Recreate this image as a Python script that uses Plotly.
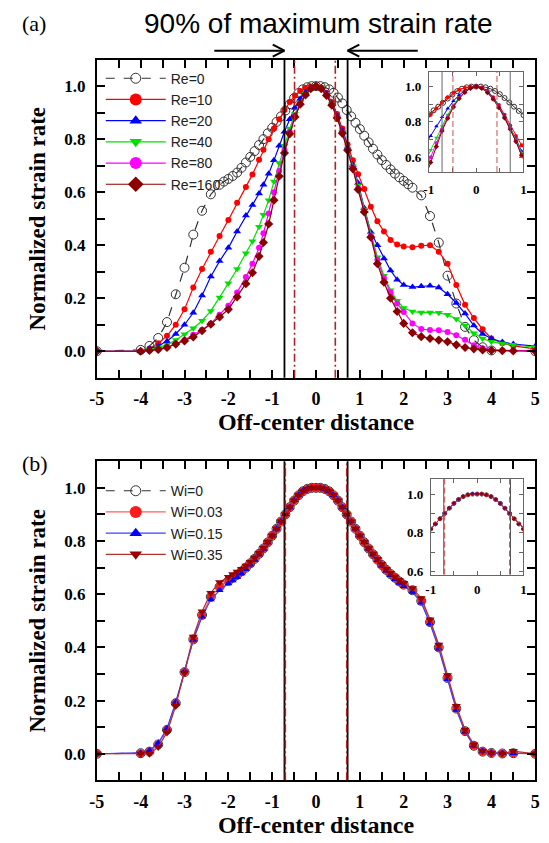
import plotly.graph_objects as go

# ---------------- panel (a) data ----------------
X_RE0 = [-5, -4, -3.8, -3.6, -3.4, -3.2, -3.0, -2.8, -2.6, -2.4, -2.2, -2.1, -2.0, -1.9, -1.8, -1.7,
         -1.6, -1.5, -1.4, -1.3, -1.2, -1.1, -1.0, -0.9, -0.8, -0.7, -0.6, -0.5, -0.4, -0.3, -0.2, -0.1,
         0,
         0.1, 0.2, 0.3, 0.4, 0.5, 0.6, 0.7, 0.8, 0.9, 1.0, 1.1, 1.2, 1.3, 1.4, 1.5, 1.6, 1.7, 1.8, 1.9,
         2.0, 2.1, 2.2, 2.4, 2.6, 2.8, 3.0, 3.2, 3.4, 3.6, 3.8, 4.0, 5.0]
Y_RE0 = [0.0, 0.005, 0.02, 0.05, 0.11, 0.215, 0.315, 0.44, 0.53, 0.592, 0.628, 0.64, 0.65, 0.661, 0.674, 0.692,
         0.712, 0.733, 0.755, 0.778, 0.8, 0.822, 0.843, 0.865, 0.886, 0.908, 0.932, 0.955, 0.974, 0.988, 0.996, 1.0,
         1.0,
         1.0, 0.996, 0.988, 0.975, 0.957, 0.935, 0.91, 0.886, 0.862, 0.838, 0.813, 0.788, 0.764, 0.742, 0.721, 0.703,
         0.686, 0.67, 0.656, 0.643, 0.63, 0.617, 0.588, 0.51, 0.41, 0.285, 0.18, 0.092, 0.042, 0.015, 0.003, 0.0]

X_RE = [-5, -4, -3.8, -3.6, -3.4, -3.2, -3.0, -2.8, -2.6, -2.4, -2.2, -2.0, -1.8, -1.6, -1.45, -1.3, -1.2,
        -1.08, -0.96, -0.84, -0.72, -0.6, -0.48, -0.36, -0.24, -0.12,
        0,
        0.12, 0.24, 0.36, 0.48, 0.6, 0.72, 0.84, 0.96, 1.1, 1.25, 1.4, 1.55, 1.7, 1.85, 2.0, 2.2, 2.4, 2.6,
        2.8, 3.0, 3.2, 3.4, 3.6, 3.8, 4.0, 4.25, 4.5, 5.0]
Y_RE10 = [0.0, 0.0, 0.01, 0.03, 0.058, 0.1, 0.158, 0.24, 0.31, 0.375, 0.435, 0.495, 0.56, 0.62, 0.667, 0.722, 0.76,
          0.8, 0.84, 0.875, 0.91, 0.94, 0.965, 0.982, 0.994, 0.999,
          1.0,
          0.995, 0.975, 0.94, 0.895, 0.84, 0.78, 0.72, 0.668, 0.612, 0.545, 0.49, 0.452, 0.42, 0.403, 0.395, 0.392,
          0.398, 0.4, 0.375, 0.33, 0.25, 0.175, 0.125, 0.083, 0.048, 0.03, 0.02, 0.009]
Y_RE20 = [0.0, 0.0, 0.01, 0.02, 0.038, 0.065, 0.1, 0.145, 0.21, 0.282, 0.34, 0.39, 0.452, 0.512, 0.552, 0.595, 0.628,
          0.67, 0.72, 0.775, 0.828, 0.875, 0.918, 0.952, 0.977, 0.994,
          1.0,
          0.993, 0.972, 0.935, 0.888, 0.832, 0.768, 0.703, 0.635, 0.54, 0.45, 0.4, 0.35, 0.305, 0.27, 0.25, 0.242,
          0.245, 0.247, 0.24, 0.215, 0.182, 0.142, 0.097, 0.065, 0.048, 0.035, 0.027, 0.019]
Y_RE40 = [0.0, 0.0, 0.006, 0.014, 0.024, 0.042, 0.064, 0.087, 0.115, 0.152, 0.203, 0.256, 0.31, 0.37, 0.415, 0.47, 0.515,
          0.57, 0.64, 0.71, 0.775, 0.84, 0.895, 0.938, 0.971, 0.992,
          1.0,
          0.992, 0.97, 0.932, 0.885, 0.828, 0.765, 0.698, 0.625, 0.535, 0.44, 0.355, 0.285, 0.23, 0.19, 0.163, 0.15,
          0.146, 0.146, 0.145, 0.138, 0.122, 0.097, 0.068, 0.048, 0.036, 0.029, 0.024, 0.015]
Y_RE80 = [0.0, 0.0, 0.003, 0.007, 0.014, 0.027, 0.042, 0.062, 0.081, 0.105, 0.138, 0.172, 0.222, 0.28, 0.33, 0.39, 0.445,
          0.52, 0.6, 0.68, 0.758, 0.828, 0.888, 0.934, 0.968, 0.991,
          1.0,
          0.991, 0.968, 0.93, 0.882, 0.825, 0.762, 0.693, 0.615, 0.53, 0.435, 0.345, 0.275, 0.222, 0.18, 0.148, 0.105,
          0.084, 0.08, 0.079, 0.073, 0.06, 0.043, 0.023, 0.011, 0.006, 0.004, 0.003, 0.002]
Y_RE160 = [0.0, 0.0, 0.003, 0.007, 0.014, 0.027, 0.039, 0.054, 0.077, 0.102, 0.129, 0.158, 0.205, 0.255, 0.296, 0.358, 0.41,
           0.48, 0.57, 0.66, 0.748, 0.82, 0.884, 0.932, 0.967, 0.99,
           1.0,
           0.99, 0.965, 0.928, 0.88, 0.822, 0.758, 0.688, 0.61, 0.525, 0.43, 0.33, 0.26, 0.2, 0.15, 0.105, 0.07,
           0.055, 0.048, 0.042, 0.036, 0.024, 0.014, 0.009, 0.005, 0.003, 0.002, 0.001, 0.0]
RE_NAMES = ["Re=0", "Re=10", "Re=20", "Re=40", "Re=80", "Re=160"]

# ---------------- panel (b) data ----------------
X_WI = [-5, -4, -3.8, -3.6, -3.4, -3.2, -3.0, -2.8, -2.6, -2.4, -2.2,
        -2.0, -1.9, -1.8, -1.7, -1.6, -1.5, -1.4, -1.3, -1.2, -1.1, -1.0, -0.9, -0.8, -0.7, -0.6, -0.5, -0.4,
        -0.3, -0.2, -0.1,
        0,
        0.1, 0.2, 0.3, 0.4, 0.5, 0.6, 0.7, 0.8, 0.9, 1.0, 1.1, 1.2, 1.3, 1.4, 1.5, 1.6, 1.7, 1.8, 1.9, 2.0,
        2.2, 2.4, 2.6, 2.8, 3.0, 3.2, 3.4, 3.6, 3.8, 4.0, 4.25, 4.5, 5.0]
Y_WI0 = [0.0, 0.002, 0.008, 0.035, 0.09, 0.19, 0.307, 0.43, 0.522, 0.59, 0.628,
         0.65, 0.662, 0.673, 0.686, 0.7, 0.716, 0.733, 0.752, 0.772, 0.795, 0.82, 0.846, 0.873, 0.9, 0.927, 0.952,
         0.972, 0.987, 0.996, 1.0,
         1.0,
         1.0, 0.996, 0.987, 0.972, 0.952, 0.927, 0.9, 0.873, 0.846, 0.82, 0.795, 0.772, 0.75, 0.73, 0.71, 0.692,
         0.676, 0.662, 0.648, 0.636, 0.615, 0.575, 0.495, 0.4, 0.285, 0.17, 0.085, 0.03, 0.008, 0.003, 0.001,
         0.002, 0.0]
Y_WI003 = [0.0, 0.002, 0.008, 0.035, 0.09, 0.19, 0.307, 0.43, 0.522, 0.59, 0.628,
           0.65, 0.662, 0.673, 0.686, 0.7, 0.716, 0.733, 0.752, 0.772, 0.795, 0.82, 0.846, 0.873, 0.9, 0.927, 0.952,
           0.972, 0.987, 0.996, 1.0,
           1.0,
           1.0, 0.996, 0.987, 0.972, 0.952, 0.927, 0.9, 0.873, 0.846, 0.82, 0.795, 0.772, 0.75, 0.73, 0.71, 0.692,
           0.676, 0.662, 0.648, 0.636, 0.615, 0.575, 0.495, 0.4, 0.285, 0.17, 0.085, 0.03, 0.008, 0.003, 0.001,
           0.002, 0.0]
Y_WI015 = [0.0, 0.003, 0.012, 0.04, 0.095, 0.195, 0.31, 0.428, 0.515, 0.58, 0.615,
           0.64, 0.652, 0.664, 0.678, 0.694, 0.711, 0.729, 0.749, 0.77, 0.794, 0.82, 0.846, 0.874, 0.901, 0.928,
           0.953, 0.973, 0.988, 0.997, 1.0,
           1.0,
           1.0, 0.996, 0.987, 0.972, 0.952, 0.927, 0.9, 0.873, 0.846, 0.82, 0.795, 0.771, 0.749, 0.728, 0.707, 0.688,
           0.671, 0.656, 0.642, 0.63, 0.608, 0.568, 0.49, 0.395, 0.28, 0.165, 0.082, 0.03, 0.01, 0.004, 0.002,
           0.002, 0.001]
Y_WI035 = [0.0, 0.0, 0.0, 0.025, 0.08, 0.18, 0.305, 0.44, 0.535, 0.605, 0.645,
           0.665, 0.675, 0.684, 0.695, 0.707, 0.721, 0.737, 0.755, 0.774, 0.796, 0.82, 0.846, 0.873, 0.9, 0.927,
           0.952, 0.972, 0.987, 0.996, 1.0,
           1.0,
           1.0, 0.996, 0.987, 0.972, 0.952, 0.927, 0.9, 0.873, 0.846, 0.82, 0.796, 0.773, 0.752, 0.732, 0.713, 0.695,
           0.68, 0.666, 0.653, 0.642, 0.622, 0.585, 0.505, 0.41, 0.295, 0.18, 0.09, 0.035, 0.01, 0.002, 0.0,
           0.01, 0.0]
WI_NAMES = ["Wi=0", "Wi=0.03", "Wi=0.15", "Wi=0.35"]

# ---------------- reference lines (x positions) ----------------
A_SOLID = [-0.72, 0.72]
A_DASH = [-0.49, 0.44]
B_SOLID = [-0.72, 0.72]
B_DASH = [-0.70, 0.70]

# ---------------- ticks ----------------
X_TICKS = [-5, -4.5, -4, -3.5, -3, -2.5, -2, -1.5, -1, -0.5, 0, 0.5, 1, 1.5, 2, 2.5, 3, 3.5, 4, 4.5, 5]
X_TICKTEXT = ["-5", "", "-4", "", "-3", "", "-2", "", "-1", "", "0", "", "1", "", "2", "", "3", "", "4", "", "5"]
Y_TICKS = [-0.1, 0.0, 0.1, 0.2, 0.3, 0.4, 0.5, 0.6, 0.7, 0.8, 0.9, 1.0, 1.1]
Y_TICKTEXT = ["", "0.0", "", "0.2", "", "0.4", "", "0.6", "", "0.8", "", "1.0", ""]
IN_X_TICKS = [-1, -0.5, 0, 0.5, 1]
IN_X_TICKTEXT = ["-1", "", "0", "", "1"]
IN_Y_TICKS = [0.6, 0.7, 0.8, 0.9, 1.0]
IN_Y_TICKTEXT = ["0.6", "", "0.8", "", "1.0"]

W, H = 549, 843
SERIF = "Liberation Serif"
SANS = "Liberation Sans"


def px(xp):
    return xp / W


def py(yp):
    return 1 - yp / H


RE_STYLE = [
    dict(color="#333333", symbol="circle-open", size=9, dash="dash", msize_in=5, lsize=10),
    dict(color="#ff0000", symbol="circle", size=6, dash="solid", msize_in=4, lsize=12),
    dict(color="#0000ff", symbol="triangle-up", size=7, dash="solid", msize_in=4, lsize=11),
    dict(color="#00e000", symbol="triangle-down", size=7, dash="solid", msize_in=4, lsize=11),
    dict(color="#ff00ff", symbol="circle", size=6, dash="solid", msize_in=4, lsize=12),
    dict(color="#8b0000", symbol="diamond", size=7, dash="solid", msize_in=4, lsize=12),
]
WI_STYLE = [
    dict(color="#333333", line="#333333", symbol="circle-open", size=9, dash="dash", lsize=10),
    dict(color="#ff1a1a", line="#ff6060", symbol="circle", size=8, dash="solid", lsize=12),
    dict(color="#0000ff", line="#4040ff", symbol="triangle-up", size=7, dash="solid", lsize=11),
    dict(color="#990000", line="#b03030", symbol="triangle-down", size=8, dash="solid", lsize=11),
]


def mline(st):
    return dict(color=st["color"], width=1 if "open" in st["symbol"] else 0)


fig = go.Figure()

re_x = [X_RE0, X_RE, X_RE, X_RE, X_RE, X_RE]
re_y = [Y_RE0, Y_RE10, Y_RE20, Y_RE40, Y_RE80, Y_RE160]
for name, xs, ys, st in zip(RE_NAMES, re_x, re_y, RE_STYLE):
    fig.add_trace(go.Scatter(
        x=xs, y=ys, name=name, mode="lines+markers", xaxis="x", yaxis="y", showlegend=False,
        legendgroup=name,
        line=dict(color=st["color"], width=1.2, dash=st["dash"]),
        marker=dict(symbol=st["symbol"], size=st["size"], color=st["color"], line=mline(st))))
for name, xs, ys, st in zip(RE_NAMES, re_x, re_y, RE_STYLE):
    fig.add_trace(go.Scatter(
        x=xs, y=ys, name=name, mode="lines+markers", xaxis="x3", yaxis="y3", showlegend=False,
        legendgroup=name,
        line=dict(color=st["color"], width=1, dash="solid"),
        marker=dict(symbol=st["symbol"], size=st["msize_in"], color=st["color"], line=mline(st))))
# legend entries (larger symbols, as in the original legend)
for name, st in zip(RE_NAMES, RE_STYLE):
    fig.add_trace(go.Scatter(
        x=[None], y=[None], name=name, mode="lines+markers", xaxis="x", yaxis="y", legend="legend",
        legendgroup=name,
        line=dict(color=st["color"], width=1.2, dash=st["dash"]),
        marker=dict(symbol=st["symbol"], size=st["lsize"], color=st["color"], line=mline(st))))

wi_y = [Y_WI0, Y_WI003, Y_WI015, Y_WI035]
for name, ys, st in zip(WI_NAMES, wi_y, WI_STYLE):
    fig.add_trace(go.Scatter(
        x=X_WI, y=ys, name=name, mode="lines+markers", xaxis="x2", yaxis="y2", showlegend=False,
        legendgroup=name,
        line=dict(color=st["line"], width=1.2, dash=st["dash"]),
        marker=dict(symbol=st["symbol"], size=st["size"], color=st["color"], line=mline(st))))
for name, ys, st in zip(WI_NAMES, wi_y, WI_STYLE):
    fig.add_trace(go.Scatter(
        x=X_WI, y=ys, name=name, mode="lines+markers", xaxis="x4", yaxis="y4", showlegend=False,
        legendgroup=name,
        line=dict(color=st["line"], width=1, dash="solid"),
        marker=dict(symbol=st["symbol"], size=4, color=st["color"], line=dict(width=0))))
for name, st in zip(WI_NAMES, WI_STYLE):
    fig.add_trace(go.Scatter(
        x=[None], y=[None], name=name, mode="lines+markers", xaxis="x2", yaxis="y2", legend="legend2",
        legendgroup=name,
        line=dict(color=st["line"], width=1.2, dash=st["dash"]),
        marker=dict(symbol=st["symbol"], size=st["lsize"], color=st["color"], line=mline(st))))

shapes = []
for xv in A_SOLID:
    shapes.append(dict(type="line", xref="x", yref="y domain", x0=xv, x1=xv, y0=0, y1=1,
                       line=dict(color="black", width=1.8)))
for xv in A_DASH:
    shapes.append(dict(type="line", xref="x", yref="y domain", x0=xv, x1=xv, y0=0, y1=1,
                       line=dict(color="#b22222", width=1.6, dash="8px,3px,2px,3px")))
for xv in B_SOLID:
    shapes.append(dict(type="line", xref="x2", yref="y2 domain", x0=xv, x1=xv, y0=0, y1=1,
                       line=dict(color="black", width=1.8)))
for xv in B_DASH:
    shapes.append(dict(type="line", xref="x2", yref="y2 domain", x0=xv, x1=xv, y0=0, y1=1,
                       line=dict(color="#b22222", width=1.6, dash="8px,3px,2px,3px")))
for xv in A_SOLID:
    shapes.append(dict(type="line", xref="x3", yref="y3 domain", x0=xv, x1=xv, y0=0, y1=1,
                       line=dict(color="#666666", width=1)))
for xv in A_DASH:
    shapes.append(dict(type="line", xref="x3", yref="y3 domain", x0=xv, x1=xv, y0=0, y1=1,
                       line=dict(color="#c85050", width=1, dash="6px,3px")))
for xv in B_SOLID:
    shapes.append(dict(type="line", xref="x4", yref="y4 domain", x0=xv, x1=xv, y0=0, y1=1,
                       line=dict(color="#555555", width=1)))
for xv in B_DASH:
    shapes.append(dict(type="line", xref="x4", yref="y4 domain", x0=xv, x1=xv, y0=0, y1=1,
                       line=dict(color="#c85050", width=1, dash="6px,3px")))

# arrows pointing at the solid 90% lines of panel (a)
ay = py(51)
ah = 6 / H
for tip, sgn in [(A_SOLID[0], -1), (A_SOLID[1], 1)]:
    tail = tip + sgn * 72 / 45.0
    back = tip + sgn * 12 / 45.0
    shapes.append(dict(type="line", xref="x", yref="paper", x0=tail, x1=tip, y0=ay, y1=ay,
                       line=dict(color="black", width=2)))
    shapes.append(dict(type="line", xref="x", yref="paper", x0=back, x1=tip, y0=ay + ah, y1=ay,
                       line=dict(color="black", width=2)))
    shapes.append(dict(type="line", xref="x", yref="paper", x0=back, x1=tip, y0=ay - ah, y1=ay,
                       line=dict(color="black", width=2)))

annotations = [
    dict(text="90% of maximum strain rate", xref="paper", yref="paper", x=px(318), y=py(24),
         xanchor="center", yanchor="middle", showarrow=False,
         font=dict(family=SANS, size=28, color="black")),
    dict(text="(a)", xref="paper", yref="paper", x=px(12), y=py(24), xanchor="left", yanchor="middle",
         showarrow=False, font=dict(family=SERIF, size=22, color="black")),
    dict(text="(b)", xref="paper", yref="paper", x=px(12), y=py(466), xanchor="left", yanchor="middle",
         showarrow=False, font=dict(family=SERIF, size=22, color="black")),
]


def main_x(anchor):
    return dict(range=[-5, 5], tickvals=X_TICKS, ticktext=X_TICKTEXT, showline=True, linecolor="black",
                linewidth=2, mirror="ticks", ticks="inside", ticklen=8, tickwidth=1.5, tickcolor="black",
                showgrid=False, zeroline=False, ticklabelstandoff=4,
                tickfont=dict(family=SERIF, size=18, color="black", weight="bold"),
                title=dict(text="Off-center distance", standoff=4,
                           font=dict(family=SERIF, size=24, color="black", weight="bold")),
                domain=[px(91), px(540)], anchor=anchor)


def main_y(dom, anchor):
    return dict(range=[-0.1, 1.1], tickvals=Y_TICKS, ticktext=Y_TICKTEXT, showline=True, linecolor="black",
                linewidth=2, mirror="ticks", ticks="inside", ticklen=8, tickwidth=1.5, tickcolor="black",
                showgrid=False, zeroline=False, ticklabelstandoff=6,
                tickfont=dict(family=SERIF, size=17, color="black", weight="bold"),
                title=dict(text="Normalized strain rate", standoff=12,
                           font=dict(family=SERIF, size=23, color="black", weight="bold")),
                domain=dom, anchor=anchor)


def inset_x(dom, anchor, standoff):
    return dict(range=[-1, 1], tickvals=IN_X_TICKS, ticktext=IN_X_TICKTEXT, showline=True,
                linecolor="#666666", linewidth=1, mirror="ticks", ticks="inside", ticklen=4, tickwidth=1,
                tickcolor="#666666", showgrid=False, zeroline=False, ticklabelstandoff=standoff,
                tickfont=dict(family=SERIF, size=13, color="black", weight="bold"),
                domain=dom, anchor=anchor)


def inset_y(rng, dom, anchor):
    return dict(range=rng, tickvals=IN_Y_TICKS, ticktext=IN_Y_TICKTEXT, showline=True,
                linecolor="#666666", linewidth=1, mirror="ticks", ticks="inside", ticklen=4, tickwidth=1,
                tickcolor="#666666", showgrid=False, zeroline=False, ticklabelstandoff=4,
                tickfont=dict(family=SERIF, size=13, color="black", weight="bold"),
                domain=dom, anchor=anchor)


legend_common = dict(xanchor="left", yanchor="top", bgcolor="rgba(0,0,0,0)", borderwidth=0,
                     font=dict(family=SANS, size=14, color="#222222"), itemsizing="trace",
                     itemwidth=60, tracegroupgap=0)

fig.update_layout(
    width=W, height=H, margin=dict(l=0, r=0, t=0, b=0),
    paper_bgcolor="white", plot_bgcolor="white", showlegend=True,
    xaxis=main_x("y"),
    yaxis=main_y([py(380), py(60)], "x"),
    xaxis2=main_x("y2"),
    yaxis2=main_y([py(785), py(464)], "x2"),
    xaxis3=inset_x([px(431), px(528)], "y3", 5),
    yaxis3=inset_y([0.516, 1.085], [py(173), py(72)], "x3"),
    xaxis4=inset_x([px(433), px(528)], "y4", 3),
    yaxis4=inset_y([0.585, 1.077], [py(578), py(482)], "x4"),
    legend=dict(x=px(95), y=py(63), **legend_common),
    legend2=dict(x=px(95), y=py(478), **legend_common),
    shapes=shapes,
    annotations=annotations,
)

fig.write_html("out.html")
